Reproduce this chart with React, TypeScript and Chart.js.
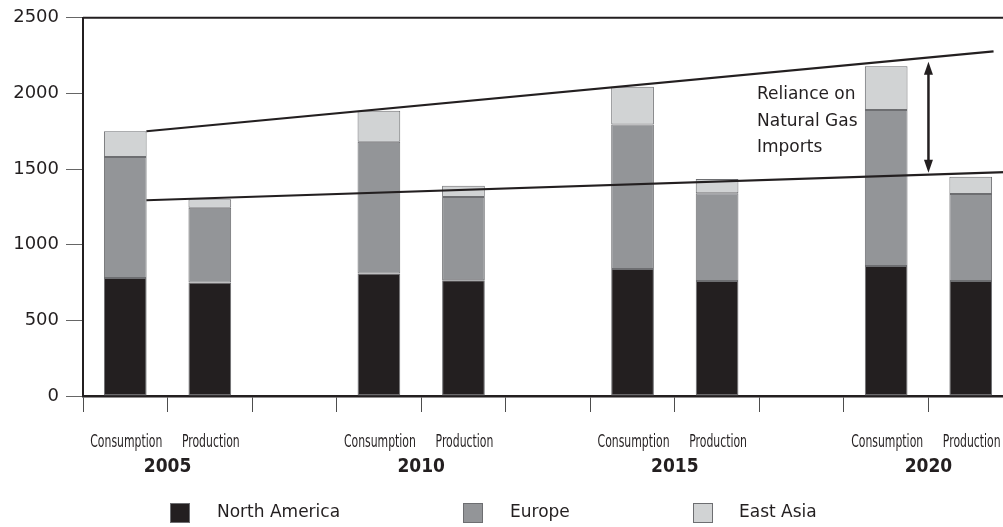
import { useEffect, useRef } from 'react';
import { Chart, registerables } from 'chart.js';

Chart.register(...registerables);

// Natural gas balance by year (bcm), stacked by region
const years = ['2005', '2010', '2015', '2020'];
const naConsumption = [780, 810, 840, 860];
const naProduction = [750, 765, 760, 760];
const euConsumption = [800, 870, 955, 1030];
const euProduction = [495, 550, 580, 575];
const eaConsumption = [170, 205, 250, 290];
const eaProduction = [55, 75, 95, 115];

// Trend lines across consumption tops and production tops (x in slot units)
const consumptionTrend = [
  { x: 0.25, y: 1750 },
  { x: 10.27, y: 2278 },
];
const productionTrend = [
  { x: 0.25, y: 1294 },
  { x: 10.5, y: 1482 },
];
// Double arrow marking the import gap
const gapArrowSlot = [9.5];
const gapArrowRange = [2210, 1475];

const yMin = 0;
const yMax = 2500;
const yStep = 500;

const regionNames = ['North America', 'Europe', 'East Asia'];
const regionColors = ['#231f20', '#939598', '#d1d3d4'];
const annotationLines = ['Reliance on', 'Natural Gas', 'Imports'];

const INK = '#231f20';
const NARROW = "'Liberation Sans Narrow', 'DejaVu Sans Condensed', sans-serif";
const SANS = "'DejaVu Sans', sans-serif";

// Lay years out as Consumption, Production, gap, ...
function slots(cons: number[], prod: number[]): (number | null)[] {
  const out: (number | null)[] = [];
  cons.forEach((c, i) => {
    out.push(c, prod[i]);
    if (i < cons.length - 1) out.push(null);
  });
  return out;
}
const slotLabels: string[] = [];
years.forEach((_, i) => {
  slotLabels.push('Consumption', 'Production');
  if (i < years.length - 1) slotLabels.push('');
});

const decorations = {
  id: 'decorations',
  afterDraw(chart: any) {
    const { ctx, chartArea } = chart;
    const x = chart.scales.x;
    const xl = chart.scales.xl;
    const yl = chart.scales.yl;
    ctx.save();

    // top frame line
    ctx.strokeStyle = INK;
    ctx.lineWidth = 2;
    ctx.beginPath();
    ctx.moveTo(chartArea.left, chartArea.top);
    ctx.lineTo(chartArea.right, chartArea.top);
    ctx.stroke();

    // condensed category labels under each slot
    ctx.fillStyle = INK;
    ctx.font = `18px ${NARROW}`;
    ctx.textAlign = 'center';
    ctx.textBaseline = 'alphabetic';
    const squeeze = 72 / ctx.measureText('Consumption').width;
    slotLabels.forEach((lab, i) => {
      if (!lab) return;
      ctx.save();
      ctx.translate(x.getPixelForValue(i) + 1, 447);
      ctx.scale(squeeze, 1);
      ctx.fillText(lab, 0, 0);
      ctx.restore();
    });

    // year labels centred under each pair
    ctx.font = `bold 19px ${NARROW}`;
    ctx.textBaseline = 'middle';
    years.forEach((yr, i) => {
      const cx = (x.getPixelForValue(i * 3) + x.getPixelForValue(i * 3 + 1)) / 2;
      ctx.fillText(yr, cx, 467);
    });

    // double-headed arrow
    const ax = xl.getPixelForValue(gapArrowSlot[0]);
    const aTop = yl.getPixelForValue(gapArrowRange[0]);
    const aBot = yl.getPixelForValue(gapArrowRange[1]);
    const head = 13;
    const hw = 4.5;
    ctx.lineWidth = 2.5;
    ctx.beginPath();
    ctx.moveTo(ax, aTop + head - 2);
    ctx.lineTo(ax, aBot - head + 2);
    ctx.stroke();
    ctx.beginPath();
    ctx.moveTo(ax, aTop);
    ctx.lineTo(ax - hw, aTop + head);
    ctx.lineTo(ax + hw, aTop + head);
    ctx.closePath();
    ctx.fill();
    ctx.beginPath();
    ctx.moveTo(ax, aBot);
    ctx.lineTo(ax - hw, aBot - head);
    ctx.lineTo(ax + hw, aBot - head);
    ctx.closePath();
    ctx.fill();

    // annotation text
    ctx.font = `17px ${SANS}`;
    ctx.textAlign = 'left';
    ctx.textBaseline = 'alphabetic';
    annotationLines.forEach((t, i) => {
      ctx.fillText(t, 757, 99 + i * 26.7);
    });

    // legend
    const boxX = [170, 463, 693];
    const textX = [217, 510, 739];
    ctx.font = `17px ${SANS}`;
    ctx.textBaseline = 'middle';
    regionNames.forEach((name, i) => {
      ctx.fillStyle = regionColors[i];
      ctx.fillRect(boxX[i], 503, 20, 20);
      ctx.strokeStyle = '#6d6e71';
      ctx.lineWidth = 1;
      ctx.strokeRect(boxX[i] + 0.5, 503.5, 19, 19);
      ctx.fillStyle = INK;
      ctx.fillText(name, textX[i], 513);
    });

    ctx.restore();
  },
};

export default function App() {
  const canvasRef = useRef<HTMLCanvasElement | null>(null);

  useEffect(() => {
    const canvas = canvasRef.current;
    if (!canvas) return;
    const barStyle = {
      borderColor: '#6d6e71',
      borderWidth: 1,
      borderSkipped: false as const,
      barPercentage: 0.505,
      categoryPercentage: 1,
      grouped: false,
      stack: 'gas',
      order: 2,
    };
    const lineStyle = {
      type: 'line' as const,
      borderColor: INK,
      borderWidth: 2.2,
      pointRadius: 0,
      fill: false,
      xAxisID: 'xl',
      yAxisID: 'yl',
      order: 0,
    };
    const chart = new Chart(canvas, {
      type: 'bar',
      data: {
        labels: slotLabels,
        datasets: [
          { ...lineStyle, label: 'consumption trend', data: consumptionTrend } as any,
          { ...lineStyle, label: 'production trend', data: productionTrend } as any,
          { ...barStyle, label: regionNames[0], data: slots(naConsumption, naProduction), backgroundColor: regionColors[0] },
          { ...barStyle, label: regionNames[1], data: slots(euConsumption, euProduction), backgroundColor: regionColors[1] },
          { ...barStyle, label: regionNames[2], data: slots(eaConsumption, eaProduction), backgroundColor: regionColors[2] },
        ],
      },
      options: {
        responsive: false,
        animation: false,
        devicePixelRatio: 1,
        layout: { padding: { left: 0, right: 7, top: 13, bottom: 0 } },
        plugins: { legend: { display: false }, tooltip: { enabled: false } },
        scales: {
          x: {
            type: 'category',
            stacked: true,
            offset: true,
            afterFit: (s: any) => { s.height = 131; },
            border: { display: true, color: INK, width: 2.5 },
            grid: { offset: true, drawOnChartArea: false, drawTicks: true, tickLength: 16, color: '#4d4d4d', lineWidth: 1 },
            ticks: { display: false, autoSkip: false },
          },
          y: {
            stacked: true,
            min: yMin,
            max: yMax,
            afterFit: (s: any) => { s.width = 83; },
            border: { display: true, color: INK, width: 2 },
            grid: { drawOnChartArea: false, drawTicks: true, tickLength: 17, color: '#666', lineWidth: 1 },
            ticks: {
              stepSize: yStep,
              padding: 7,
              color: INK,
              font: { family: SANS, size: 18 },
              callback: (v: any) => String(v),
            },
          },
          xl: { type: 'linear', display: false, offset: false, min: -0.5, max: slotLabels.length - 0.5 },
          yl: { type: 'linear', display: false, offset: false, min: yMin, max: yMax },
        },
      },
      plugins: [decorations],
    } as any);
    return () => chart.destroy();
  }, []);

  return (
    <div style={{ position: 'fixed', left: 0, top: 0, width: 1003, height: 527, overflow: 'hidden', background: '#fff' }}>
      <canvas ref={canvasRef} width={1020} height={527} style={{ display: 'block' }} />
    </div>
  );
}
